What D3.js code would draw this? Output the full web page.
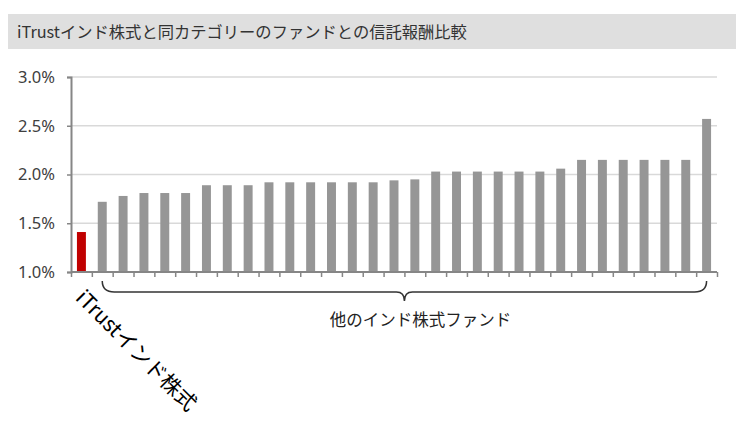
<!DOCTYPE html>
<html><head><meta charset="utf-8">
<script src="https://cdn.jsdelivr.net/npm/d3@7"></script>
<style>
html,body{margin:0;padding:0;background:#fff;}
svg{display:block;font-family:"Noto Sans CJK JP","Noto Sans",sans-serif;}
</style></head>
<body>
<script>
const title = "iTrustインド株式と同カテゴリーのファンドとの信託報酬比較";
const highlightLabel = "iTrustインド株式";
const groupLabel = "他のインド株式ファンド";
const categories = ["iTrustインド株式","他1","他2","他3","他4","他5","他6","他7","他8","他9","他10","他11","他12","他13","他14","他15","他16","他17","他18","他19","他20","他21","他22","他23","他24","他25","他26","他27","他28","他29","他30"];
const values = [1.41,1.72,1.78,1.81,1.81,1.81,1.89,1.89,1.89,1.92,1.92,1.92,1.92,1.92,1.92,1.94,1.95,2.03,2.03,2.03,2.03,2.03,2.03,2.06,2.15,2.15,2.15,2.15,2.15,2.15,2.57];
const yTicks = [1.0,1.5,2.0,2.5,3.0];

(function () {
const W = 746, H = 421;
const svg = d3.select("body").append("svg").attr("width", W).attr("height", H);

// title band
svg.append("rect").attr("x", 8).attr("y", 14).attr("width", 728).attr("height", 35).attr("fill", "#dfdfdf");
svg.append("text").attr("x", 17).attr("y", 38).attr("font-size", 16.3).attr("fill", "#333").text(title);

const pl = 71, pr = 717, pt = 77, pb = 272;
const x = d3.scaleBand().domain(categories).range([pl, pr]).paddingInner(0.57).paddingOuter(0.285);
const xb = d3.scaleLinear().domain([0, categories.length]).range([pl, pr]);
const y = d3.scaleLinear().domain([1, 3]).range([pb, pt]);

// gridlines
svg.append("g").selectAll("line").data(yTicks.slice(1)).join("line")
  .attr("x1", pl).attr("x2", pr).attr("y1", d => y(d)).attr("y2", d => y(d))
  .attr("stroke", "#d9d9d9").attr("stroke-width", 1.5);

// bars
svg.append("g").selectAll("rect").data(values).join("rect")
  .attr("x", (d, i) => x(categories[i])).attr("width", x.bandwidth())
  .attr("y", d => y(d)).attr("height", d => y(1) - y(d))
  .attr("fill", (d, i) => i === 0 ? "#c00000" : "#969696");

// y axis
const ya = svg.append("g").attr("transform", `translate(${pl},0)`)
  .call(d3.axisLeft(y).tickValues(yTicks).tickSize(4).tickPadding(12).tickFormat(d => d.toFixed(1) + "%"));
ya.select(".domain").attr("stroke", "#868686").attr("stroke-width", 2);
ya.selectAll(".tick line").attr("stroke", "#868686").attr("stroke-width", 1.5);
ya.selectAll(".tick text").attr("font-size", 16.5).attr("fill", "#404040").attr("font-family", "'Noto Sans','Noto Sans CJK JP',sans-serif");

// x axis
const xa = svg.append("g").attr("transform", `translate(0,${pb})`)
  .call(d3.axisBottom(xb).tickValues(d3.range(categories.length + 1)).tickSize(5).tickFormat(""));
xa.select(".domain").attr("stroke", "#868686").attr("stroke-width", 2).attr("d", `M${pl},0H${pr}`);
xa.selectAll(".tick line").attr("stroke", "#868686").attr("stroke-width", 1.5);

// brace
const bl = x(categories[1]) + x.bandwidth() / 2;
const br = x(categories[categories.length - 1]) + x.bandwidth() / 2;
const bm = (bl + br) / 2;
const by = 292, bt = 281, btip = 301;
svg.append("path")
  .attr("d", `M${bl},${bt} Q${bl},${by} ${bl + 12},${by} L${bm - 8},${by} Q${bm},${by} ${bm},${btip} Q${bm},${by} ${bm + 8},${by} L${br - 12},${by} Q${br},${by} ${br},${bt}`)
  .attr("fill", "none").attr("stroke", "#333").attr("stroke-width", 1.5);
svg.append("text").attr("x", bm + 16).attr("y", 326).attr("text-anchor", "middle")
  .attr("font-size", 16.5).attr("fill", "#222").text(groupLabel);

// rotated highlight label
const lx = x(categories[0]) + x.bandwidth() / 2;
svg.append("text").attr("transform", `translate(${lx - 7},${299}) rotate(45)`)
  .attr("font-size", 21).attr("fill", "#000").text(highlightLabel);
})();
</script>
</body></html>
